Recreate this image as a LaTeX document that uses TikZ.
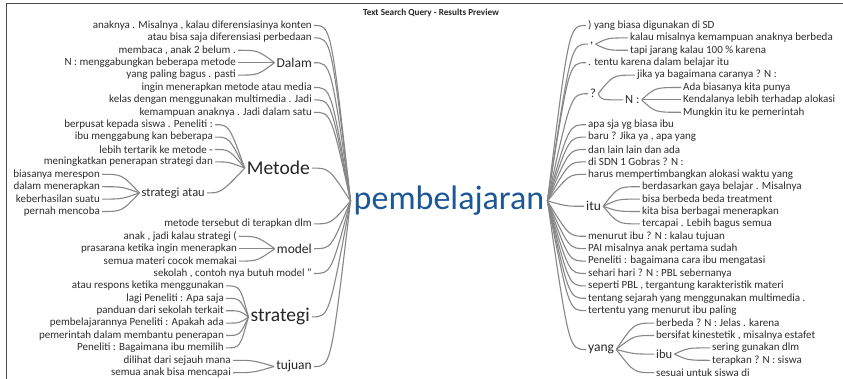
\documentclass[tikz,border=0pt]{standalone}
\usepackage{fontspec}
\setmainfont{Carlito}
\definecolor{rootblue}{RGB}{28,88,150}
\definecolor{linkgray}{RGB}{135,135,135}
\definecolor{textgray}{RGB}{45,45,45}
\begin{document}
\begin{tikzpicture}[x=1pt,y=-1pt]
        \tikzstyle{leaf} = [inner sep=2pt,text=textgray,font=\fontsize{11}{12}\selectfont]
        \tikzstyle{twig} = [inner sep=2pt,text=textgray,font=\fontsize{12.5}{13}\selectfont]
        \tikzstyle{branch} = [inner sep=2pt,text=black!85,font=\fontsize{13.5}{14}\selectfont]
        \tikzstyle{bigbranch} = [inner sep=2pt,text=black!85,font=\fontsize{19.5}{20}\selectfont]
        \tikzstyle{link} = [draw=linkgray,line width=1.1pt]

        \useasboundingbox (0,0) rectangle (843,379);
        \fill[white] (0,0) rectangle (843,379);
        \draw[black!70,line width=0.8pt] (843,3) -- (6,3) -- (6,379);

        \node[font=\bfseries\fontsize{9.2}{10}\selectfont,text=black!85] (title) at (431,12.5) {Text Search Query - Results Preview};

        \node[text=rootblue,inner sep=3pt,font=\fontsize{34}{36}\selectfont] (root) at (449,201) {pembelajaran};

        % left side, first level
        \node[leaf,anchor=east] (L1) at (314,25.5) {anaknya . Misalnya , kalau diferensiasinya konten};
        \node[leaf,anchor=east] (L2) at (314,37.9) {atau bisa saja diferensiasi perbedaan};
        \node[branch,anchor=east] (dalam) at (314,62.7) {Dalam};
        \node[leaf,anchor=east] (L4) at (314,87.5) {ingin menerapkan metode atau media};
        \node[leaf,anchor=east] (L5) at (314,99.9) {kelas dengan menggunakan multimedia . Jadi};
        \node[leaf,anchor=east] (L6) at (314,112.3) {kemampuan anaknya . Jadi dalam satu};
        \node[bigbranch,anchor=east] (metode) at (312,168.1) {Metode};
        \node[leaf,anchor=east] (L8) at (314,223.9) {metode tersebut di terapkan dlm};
        \node[branch,anchor=east] (model) at (314,248.7) {model};
        \node[leaf,anchor=east] (L10) at (314,273.5) {sekolah , contoh nya butuh model "};
        \node[bigbranch,anchor=east] (strategi) at (312,316.9) {strategi};
        \node[branch,anchor=east] (tujuan) at (314,366.5) {tujuan};

        % Dalam
        \node[leaf,anchor=east] (D1) at (238,50.3) {membaca , anak 2 belum .};
        \node[leaf,anchor=east] (D2) at (238,62.7) {N : menggabungkan beberapa metode};
        \node[leaf,anchor=east] (D3) at (238,75.1) {yang paling bagus . pasti};

        % Metode
        \node[leaf,anchor=east] (M1) at (215,124.7) {berpusat kepada siswa . Peneliti :};
        \node[leaf,anchor=east] (M2) at (215,137.1) {ibu menggabung kan beberapa};
        \node[leaf,anchor=east] (M3) at (215,149.5) {lebih tertarik ke metode -};
        \node[leaf,anchor=east] (M4) at (215,161.9) {meningkatkan penerapan strategi dan};
        \node[twig,anchor=east] (atau) at (207,192.9) {strategi atau};
        \node[leaf,anchor=east] (A1) at (102,174.3) {biasanya merespon};
        \node[leaf,anchor=east] (A2) at (102,186.7) {dalam menerapkan};
        \node[leaf,anchor=east] (A3) at (102,199.1) {keberhasilan suatu};
        \node[leaf,anchor=east] (A4) at (102,211.5) {pernah mencoba};

        % model
        \node[leaf,anchor=east] (O1) at (239,236.3) {anak , jadi kalau strategi (};
        \node[leaf,anchor=east] (O2) at (239,248.7) {prasarana ketika ingin menerapkan};
        \node[leaf,anchor=east] (O3) at (239,261.1) {semua materi cocok memakai};

        % strategi
        \node[leaf,anchor=east] (S1) at (226,285.9) {atau respons ketika menggunakan};
        \node[leaf,anchor=east] (S2) at (226,298.3) {lagi Peneliti : Apa saja};
        \node[leaf,anchor=east] (S3) at (226,310.7) {panduan dari sekolah terkait};
        \node[leaf,anchor=east] (S4) at (226,323.1) {pembelajarannya Peneliti : Apakah ada};
        \node[leaf,anchor=east] (S5) at (226,335.5) {pemerintah dalam membantu penerapan};
        \node[leaf,anchor=east] (S6) at (226,347.9) {Peneliti : Bagaimana ibu memilih};

        % tujuan
        \node[leaf,anchor=east] (T1) at (233,360.3) {dilihat dari sejauh mana};
        \node[leaf,anchor=east] (T2) at (233,372.7) {semua anak bisa mencapai};

        % right side, first level
        \node[leaf,anchor=west] (R1) at (586,25.5) {) yang biasa digunakan di SD};
        \node[twig,anchor=west] (koma) at (588,44.1) {,};
        \node[leaf,anchor=west] (R3) at (586,62.7) {. tentu karena dalam belajar itu};
        \node[twig,anchor=west] (tanya) at (588,93.7) {?};
        \node[leaf,anchor=west] (R5) at (586,124.7) {apa sja yg biasa ibu};
        \node[leaf,anchor=west] (R6) at (586,137.1) {baru ? Jika ya , apa yang};
        \node[leaf,anchor=west] (R7) at (586,149.5) {dan lain lain dan ada};
        \node[leaf,anchor=west] (R8) at (586,161.9) {di SDN 1 Gobras ? N :};
        \node[leaf,anchor=west] (R9) at (586,174.3) {harus mempertimbangkan alokasi waktu yang};
        \node[branch,anchor=west] (itu) at (584,206.3) {itu};
        \node[leaf,anchor=west] (R11) at (586,236.3) {menurut ibu ? N : kalau tujuan};
        \node[leaf,anchor=west] (R12) at (586,248.7) {PAI misalnya anak pertama sudah};
        \node[leaf,anchor=west] (R13) at (586,261.1) {Peneliti : bagaimana cara ibu mengatasi};
        \node[leaf,anchor=west] (R14) at (586,273.5) {sehari hari ? N : PBL sebernanya};
        \node[leaf,anchor=west] (R15) at (586,285.9) {seperti PBL , tergantung karakteristik materi};
        \node[leaf,anchor=west] (R16) at (586,298.3) {tentang sejarah yang menggunakan multimedia .};
        \node[leaf,anchor=west] (R17) at (586,310.7) {tertentu yang menurut ibu paling};
        \node[branch,anchor=west] (yang) at (586,349.5) {yang};

        % , and ?
        \node[leaf,anchor=west] (K1) at (628,37.9) {kalau misalnya kemampuan anaknya berbeda};
        \node[leaf,anchor=west] (K2) at (628,50.3) {tapi jarang kalau 100 \% karena};
        \node[leaf,anchor=west] (Q1) at (635,75.1) {jika ya bagaimana caranya ? N :};
        \node[twig,anchor=west] (en) at (623,99.9) {N :};
        \node[leaf,anchor=west] (N1) at (681,87.5) {Ada biasanya kita punya};
        \node[leaf,anchor=west] (N2) at (681,99.9) {Kendalanya lebih terhadap alokasi};
        \node[leaf,anchor=west] (N3) at (681,112.3) {Mungkin itu ke pemerintah};

        % itu
        \node[leaf,anchor=west] (I1) at (640,186.7) {berdasarkan gaya belajar . Misalnya};
        \node[leaf,anchor=west] (I2) at (640,199.1) {bisa berbeda beda treatment};
        \node[leaf,anchor=west] (I3) at (640,211.5) {kita bisa berbagai menerapkan};
        \node[leaf,anchor=west] (I4) at (640,223.9) {tercapai . Lebih bagus semua};

        % yang
        \node[leaf,anchor=west] (Y1) at (654,323.1) {berbeda ? N : Jelas . karena};
        \node[leaf,anchor=west] (Y2) at (654,335.5) {bersifat kinestetik , misalnya estafet};
        \node[twig,anchor=west] (ibu) at (654,354.1) {ibu};
        \node[leaf,anchor=west] (Y4) at (654,372.7) {sesuai untuk siswa di};
        \node[leaf,anchor=west] (B1) at (710,347.9) {sering gunakan dlm};
        \node[leaf,anchor=west] (B2) at (710,360.3) {terapkan ? N : siswa};

        % connectors, left
        \foreach \a in {L1,L2,dalam,L4,L5,L6,metode,L8,model,L10,strategi,tujuan}
            \draw[link] (\a.east) .. controls +(17,0) .. (root.west);
        \foreach \a in {D1,D2,D3}
            \draw[link] (\a.east) .. controls +(20,0) .. (dalam.west);
        \foreach \a in {M1,M2,M3,M4,atau}
            \draw[link] (\a.east) .. controls +(14,0) .. (metode.west);
        \foreach \a in {A1,A2,A3,A4}
            \draw[link] (\a.east) .. controls +(20,0) .. (atau.west);
        \foreach \a in {O1,O2,O3}
            \draw[link] (\a.east) .. controls +(18,0) .. (model.west);
        \foreach \a in {S1,S2,S3,S4,S5,S6}
            \draw[link] (\a.east) .. controls +(14,0) .. (strategi.west);
        \foreach \a in {T1,T2}
            \draw[link] (\a.east) .. controls +(20,0) .. (tujuan.west);

        % connectors, right
        \foreach \a in {R1,koma,R3,tanya,R5,R6,R7,R8,R9,itu,R11,R12,R13,R14,R15,R16,R17,yang}
            \draw[link] (\a.west) .. controls +(-17,0) .. (root.east);
        \foreach \a in {K1,K2}
            \draw[link] (\a.west) .. controls +(-20,0) .. (koma.east);
        \foreach \a in {Q1,en}
            \draw[link] (\a.west) .. controls +(-22,0) .. (tanya.east);
        \foreach \a in {N1,N2,N3}
            \draw[link] (\a.west) .. controls +(-26,0) .. (en.east);
        \foreach \a in {I1,I2,I3,I4}
            \draw[link] (\a.west) .. controls +(-22,0) .. (itu.east);
        \foreach \a in {Y1,Y2,ibu,Y4}
            \draw[link] (\a.west) .. controls +(-20,0) .. (yang.east);
        \foreach \a in {B1,B2}
            \draw[link] (\a.west) .. controls +(-22,0) .. (ibu.east);
\end{tikzpicture}
\end{document}
